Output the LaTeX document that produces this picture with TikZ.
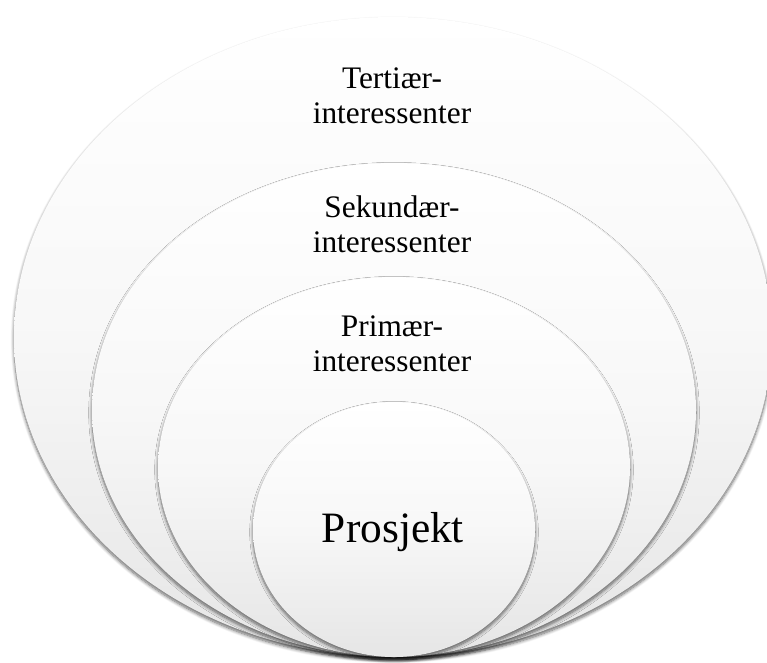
\documentclass[tikz,border=0pt]{standalone}
\usepackage{fontspec}
\setmainfont{Liberation Serif}
\usepackage{xcolor}
\usetikzlibrary{shadows.blur}

\begin{document}
\begin{tikzpicture}[x=0.75pt,y=0.75pt,yscale=-1,xscale=1,
  ring/.style={top color=white, bottom color=black!10, middle color=white!97!black,
    blur shadow={shadow xshift=0pt, shadow yshift=-2pt, shadow blur radius=2.5pt, shadow blur steps=8, shadow opacity=60}},
  lbl/.style={inner sep=0.75pt, align=center, font=\fontsize{23.5}{26.3}\selectfont}]
\useasboundingbox (0,0) rectangle (767,662);

%Shape: Ellipse (tertiary)
\path [ring] (393,337) ellipse [x radius=379, y radius=320];
%Shape: Ellipse (secondary)
\path [ring] (394,410) ellipse [x radius=302, y radius=247];
%Shape: Ellipse (primary)
\path [ring] (394,467) ellipse [x radius=236, y radius=190];
%Shape: Ellipse (project)
\path [ring] (394,529.5) ellipse [x radius=141, y radius=127.5];

% Text Node
\draw (392,96) node [lbl] (tert) {Tertiær-\\interessenter};
% Text Node
\draw (392,224) node [lbl] (sek) {Sekundær-\\interessenter};
% Text Node
\draw (392,344) node [lbl] (prim) {Primær-\\interessenter};
% Text Node
\draw (393,532) node [lbl, font=\fontsize{32.5}{36}\selectfont] (prosj) {Prosjekt};

\end{tikzpicture}
\end{document}
